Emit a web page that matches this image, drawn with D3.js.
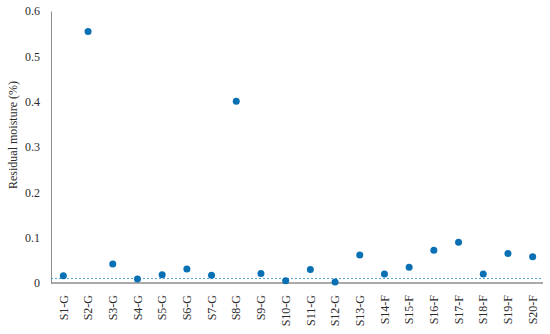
<!DOCTYPE html>
<html>
<head>
<meta charset="utf-8">
<script src="https://cdn.jsdelivr.net/npm/d3@7"></script>
<style>
  body { margin: 0; background: #fff; }
  svg text { font-family: "Palatino Linotype", "Book Antiqua", "Liberation Serif", "DejaVu Serif", serif; fill: #2b2b2b; }
</style>
</head>
<body>
<div id="chart"></div>
<script>
const samples = ['S1-G', 'S2-G', 'S3-G', 'S4-G', 'S5-G', 'S6-G', 'S7-G', 'S8-G', 'S9-G', 'S10-G',
                 'S11-G', 'S12-G', 'S13-G', 'S14-F', 'S15-F', 'S16-F', 'S17-F', 'S18-F', 'S19-F', 'S20-F'];
const moisture = [0.016, 0.555, 0.042, 0.009, 0.018, 0.031, 0.017, 0.401, 0.021, 0.005,
                  0.030, 0.002, 0.062, 0.020, 0.035, 0.072, 0.090, 0.020, 0.065, 0.058];
const limit = 0.01;
const yTicks = [0, 0.1, 0.2, 0.3, 0.4, 0.5, 0.6];

const width = 550,
      height = 334,
      margin = {top: 11, right: 5, bottom: 50, left: 51};

const svg = d3.select('#chart')
  .append('svg')
  .attr('width', width)
  .attr('height', height);

const x = d3.scaleBand()
  .domain(samples)
  .range([margin.left, width - margin.right]);

const y = d3.scaleLinear()
  .domain([0, 0.6])
  .range([height - margin.bottom - 1, margin.top]);

// y axis
const yAxis = svg.append('g')
  .attr('transform', `translate(${margin.left},0)`)
  .call(d3.axisLeft(y).tickValues(yTicks).tickSize(0).tickPadding(11)
    .tickFormat(d => d === 0 ? '0' : d3.format('.1f')(d)));
yAxis.select('.domain').attr('stroke', '#8c8c8c').attr('stroke-width', 1);
yAxis.selectAll('text').style('font-size', '12px');

// limit line
svg.append('line')
  .attr('x1', margin.left)
  .attr('x2', width - margin.right - 2)
  .attr('y1', y(limit))
  .attr('y2', y(limit))
  .attr('stroke', '#4fa3d6')
  .attr('stroke-width', 1)
  .attr('stroke-dasharray', '2,2');

// x axis
const xAxis = svg.append('g')
  .attr('transform', `translate(0,${y(0)})`)
  .call(d3.axisBottom(x).tickSize(0).tickPadding(0).tickSizeOuter(0));
xAxis.select('.domain').attr('stroke', '#8c8c8c').attr('stroke-width', 1.5)
  .attr('d', `M${margin.left},0H${width - margin.right - 2}`);
xAxis.selectAll('text')
  .style('font-size', '12px')
  .style('text-anchor', 'end')
  .attr('transform', 'rotate(-90)')
  .attr('x', -12)
  .attr('y', 0)
  .attr('dy', '0.35em');

// points
svg.append('g')
  .selectAll('circle')
  .data(samples)
  .enter().append('circle')
    .attr('cx', d => x(d) + x.bandwidth() / 2)
    .attr('cy', (d, i) => y(moisture[i]))
    .attr('r', 3.5)
    .attr('fill', '#0a70b4');

// y title
svg.append('text')
  .attr('transform', `translate(13,${(margin.top + y(0)) / 2 - 12}) rotate(-90)`)
  .attr('text-anchor', 'middle')
  .attr('dy', '0.35em')
  .style('font-size', '12px')
  .text('Residual moisture (%)');
</script>
</body>
</html>
